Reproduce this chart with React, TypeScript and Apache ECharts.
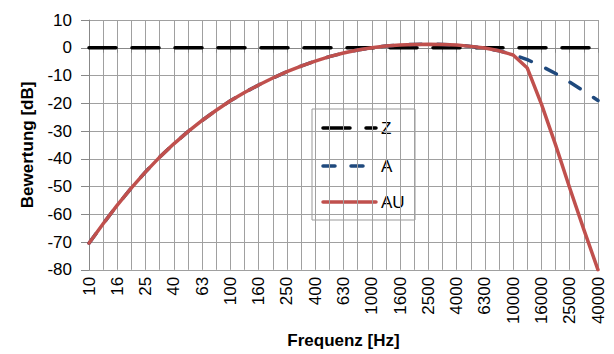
import React, { useEffect, useRef } from "react";
import * as echarts from "echarts";

const frequencies = [
  "10", "12.5", "16", "20", "25", "31.5", "40", "50", "63", "80",
  "100", "125", "160", "200", "250", "315", "400", "500", "630", "800",
  "1000", "1250", "1600", "2000", "2500", "3150", "4000", "5000", "6300", "8000",
  "10000", "12500", "16000", "20000", "25000", "31500", "40000",
];

const zValues = frequencies.map(() => 0);

const aValues = [
  -70.4, -63.4, -56.7, -50.5, -44.7, -39.4, -34.6, -30.2, -26.2, -22.5,
  -19.1, -16.1, -13.4, -10.9, -8.6, -6.6, -4.8, -3.2, -1.9, -0.8,
  0, 0.6, 1.0, 1.2, 1.3, 1.2, 1.0, 0.5, -0.1, -1.1,
  -2.5, -4.3, -6.6, -9.3, -12.4, -15.6, -19.0,
];

const auValues = [
  -70.4, -63.4, -56.7, -50.5, -44.7, -39.4, -34.6, -30.2, -26.2, -22.5,
  -19.1, -16.1, -13.4, -10.9, -8.6, -6.6, -4.8, -3.2, -1.9, -0.8,
  0, 0.6, 1.0, 1.2, 1.3, 1.2, 1.0, 0.5, -0.1, -1.1,
  -2.6, -7.3, -20.3, -35.0, -50.5, -65.5, -80.0,
];

const seriesNames = ["Z", "A", "AU"];
const seriesColors = ["#000000", "#1F497D", "#C0504D"];

const FONT = "'Liberation Sans', Arial, sans-serif";
const GRID_COLOR = "#A0A0A0";

export default function App() {
  const ref = useRef<HTMLDivElement>(null);

  useEffect(() => {
    if (!ref.current) return;
    const chart = echarts.init(ref.current, undefined, { renderer: "svg" });

    const legendX = 312;
    const legendY = 109;
    const rowYs = [128, 166, 202];
    const dashes: (number[] | null)[] = [[27, 16], [12, 16], null];

    const legendChildren: any[] = [
      {
        type: "rect",
        shape: { x: legendX, y: legendY, width: 103, height: 111 },
        style: { fill: "#ffffff", stroke: "#999999", lineWidth: 1 },
      },
    ];
    seriesNames.forEach((name, i) => {
      legendChildren.push({
        type: "line",
        shape: { x1: 323, y1: rowYs[i], x2: 376, y2: rowYs[i] },
        style: {
          stroke: seriesColors[i],
          lineWidth: 3.5,
          lineDash: dashes[i] || undefined,
          lineCap: "round",
        },
      });
      legendChildren.push({
        type: "text",
        x: 381,
        y: rowYs[i],
        style: {
          text: name,
          font: `17px ${FONT}`,
          fill: "#000000",
          verticalAlign: "middle",
        },
      });
    });

    chart.setOption({
      animation: false,
      textStyle: { fontFamily: FONT },
      grid: { left: 89, right: 16, top: 20, bottom: 77, containLabel: false },
      xAxis: {
        type: "category",
        data: frequencies,
        boundaryGap: false,
        name: "Frequenz [Hz]",
        nameLocation: "middle",
        nameGap: 60,
        nameTextStyle: { fontSize: 17, fontWeight: "bold", color: "#000" },
        axisLine: { lineStyle: { color: "#888888", width: 1 } },
        axisTick: { show: true, interval: 0, length: 5, lineStyle: { color: "#888888" } },
        axisLabel: {
          interval: 1,
          rotate: 90,
          fontSize: 17,
          color: "#000",
          margin: 7,
        },
        splitLine: { show: true, interval: 0, lineStyle: { color: GRID_COLOR, width: 1 } },
      },
      yAxis: {
        type: "value",
        min: -80,
        max: 10,
        interval: 10,
        name: "Bewertung [dB]",
        nameLocation: "middle",
        nameGap: 53,
        nameTextStyle: { fontSize: 17, fontWeight: "bold", color: "#000" },
        axisLine: { show: true, lineStyle: { color: "#888888", width: 1 } },
        axisTick: { show: true, length: 8, lineStyle: { color: "#888888" } },
        axisLabel: { fontSize: 17, color: "#000", margin: 17 },
        splitLine: { show: true, lineStyle: { color: GRID_COLOR, width: 1 } },
      },
      series: [
        {
          name: "Z",
          type: "line",
          data: zValues,
          showSymbol: false,
          lineStyle: { color: seriesColors[0], width: 3.5, type: [27, 16], cap: "round" },
        },
        {
          name: "A",
          type: "line",
          data: aValues,
          showSymbol: false,
          lineStyle: { color: seriesColors[1], width: 3.5, type: [12, 16], cap: "round" },
        },
        {
          name: "AU",
          type: "line",
          data: auValues,
          showSymbol: false,
          lineStyle: { color: seriesColors[2], width: 3.5, cap: "round", join: "round" },
        },
      ],
      graphic: [{ type: "group", children: legendChildren }],
    });

    return () => chart.dispose();
  }, []);

  return <div ref={ref} style={{ width: 614, height: 354, position: "absolute", left: 0, top: 0 }} />;
}
